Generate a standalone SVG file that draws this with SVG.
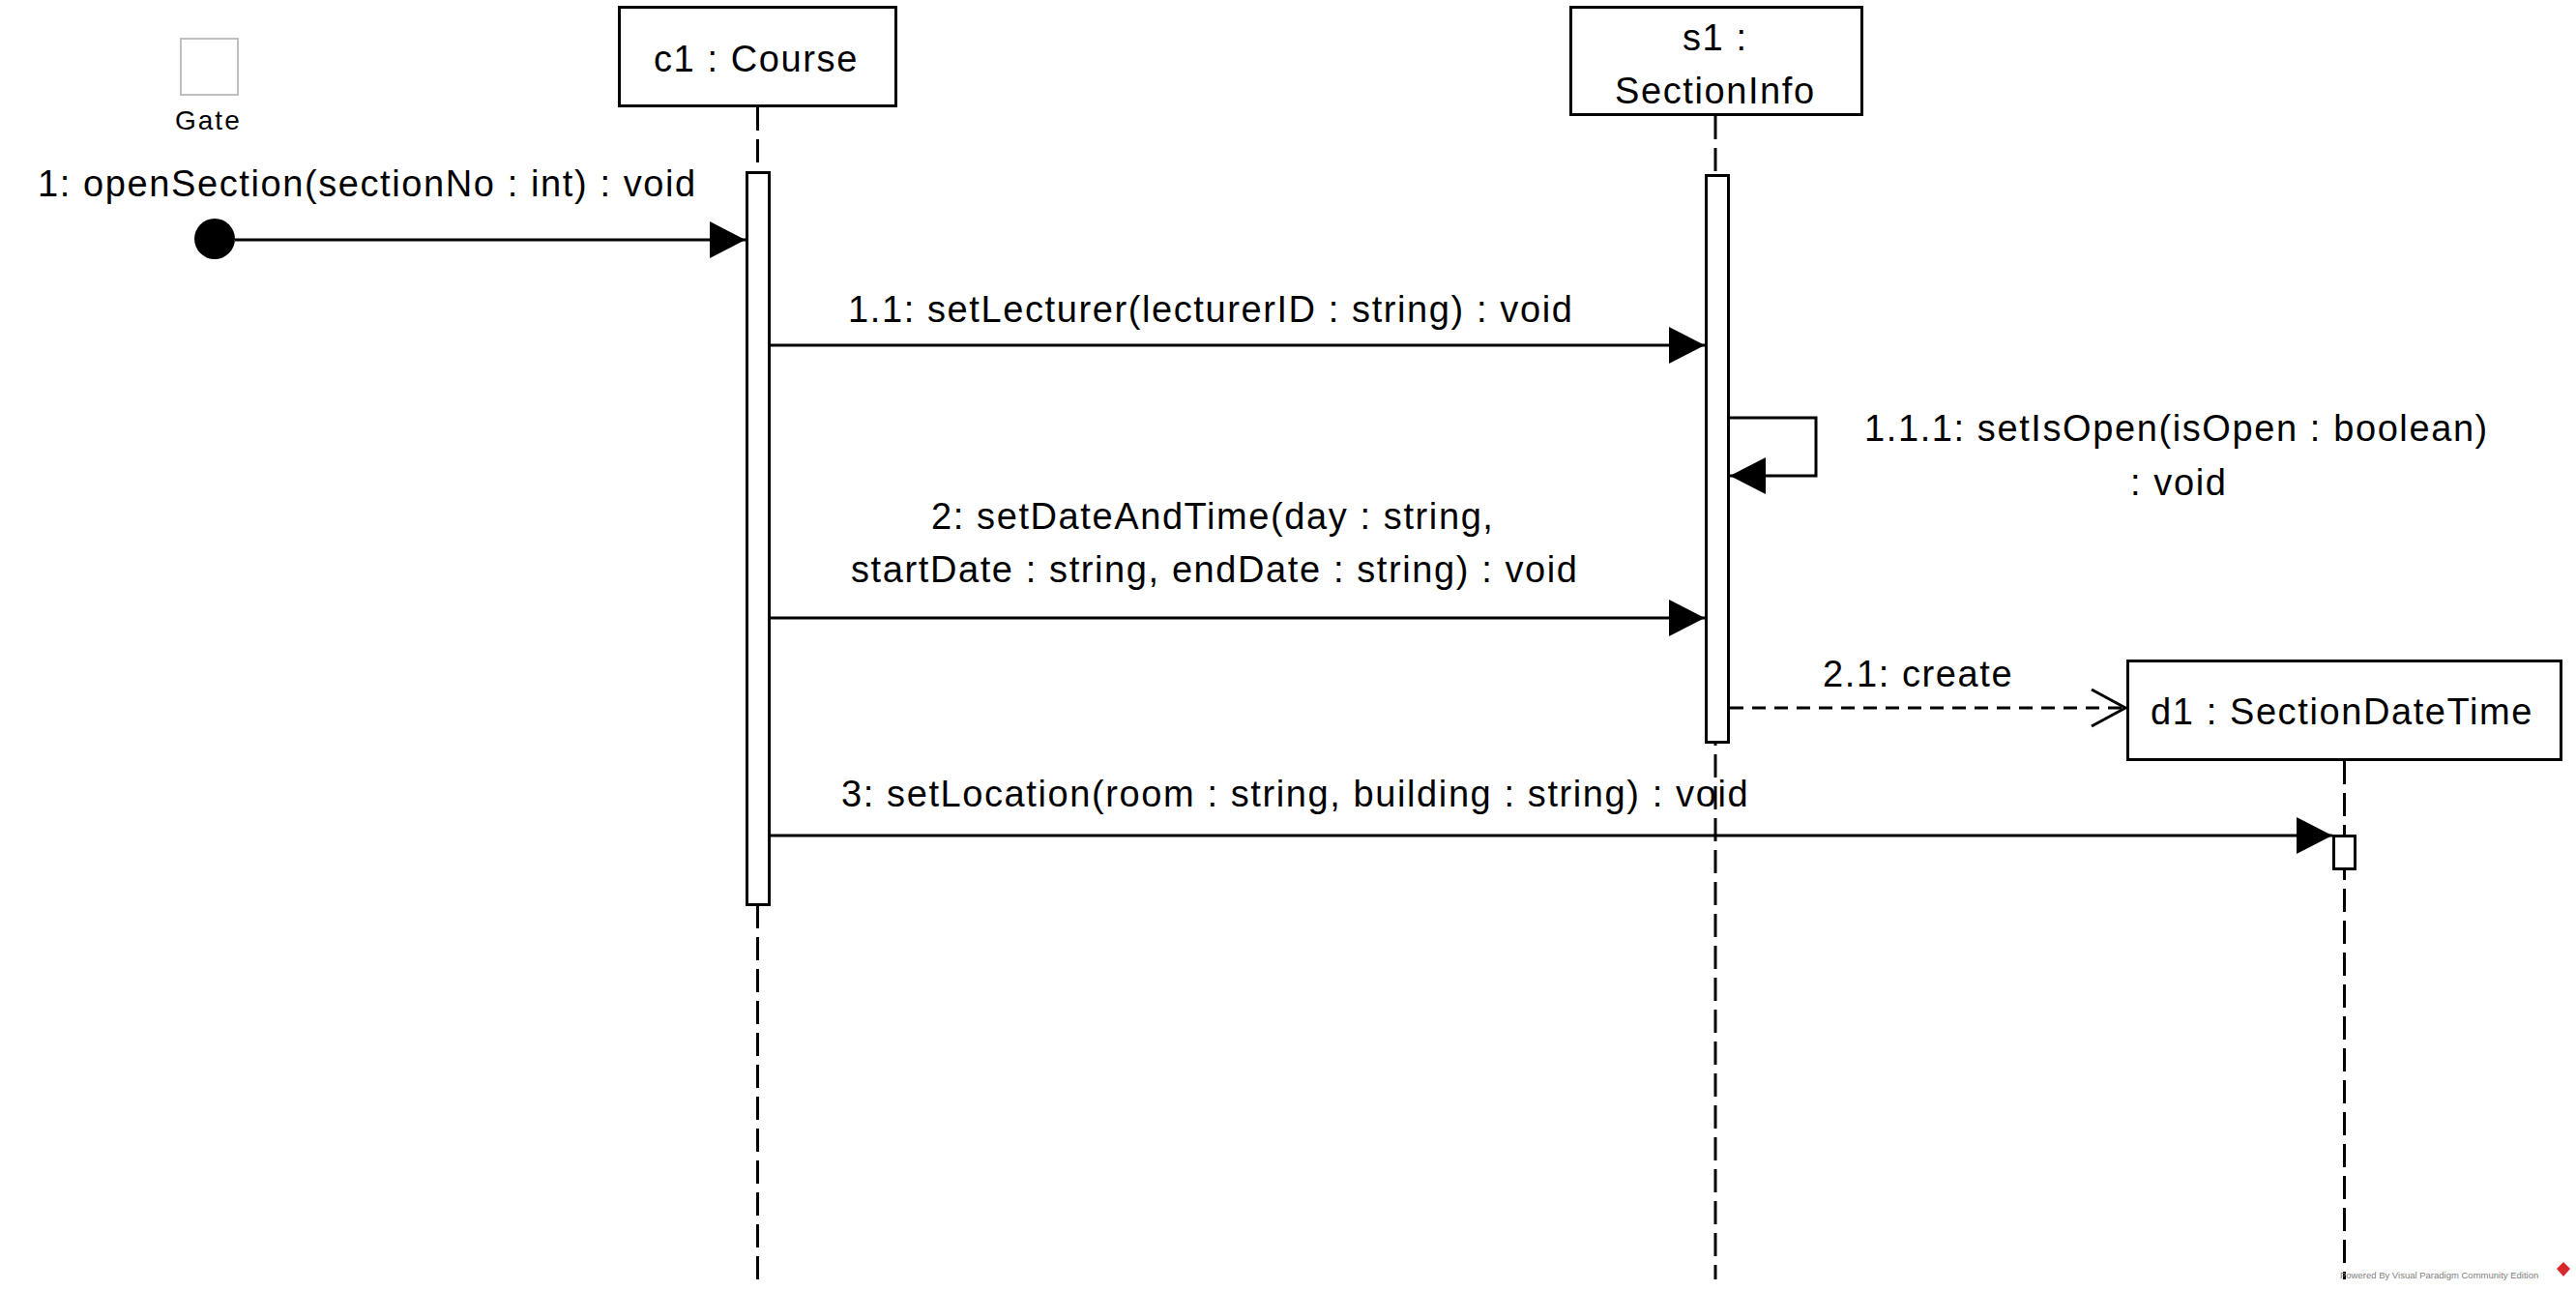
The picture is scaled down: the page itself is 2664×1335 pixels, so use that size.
<svg xmlns="http://www.w3.org/2000/svg" width="2664" height="1335" viewBox="0 0 2664 1335">
<style>
  text { font-family: "Liberation Sans", Arial, sans-serif; font-size: 38px; letter-spacing: 1.6px; fill: #000; }
  .box { fill: #fff; stroke: #000; stroke-width: 3; }
  .act { fill: #fff; stroke: #000; stroke-width: 3; }
  .life { stroke: #000; stroke-width: 3; stroke-dasharray: 24 9; fill: none; }
  .msg { stroke: #000; stroke-width: 3; fill: none; }
  .dash { stroke-dasharray: 14 9; }
</style>
<defs>
  <marker id="filled" markerUnits="userSpaceOnUse" markerWidth="38" markerHeight="38" refX="37" refY="19" orient="auto">
    <path d="M0,0 L37,19 L0,38 z" fill="#000" stroke="none"/>
  </marker>
  <marker id="open" markerUnits="userSpaceOnUse" markerWidth="40" markerHeight="42" refX="36" refY="21" orient="auto">
    <path d="M1,2 L36,21 L1,40" fill="none" stroke="#000" stroke-width="3" stroke-dasharray="none"/>
  </marker>
</defs>
<rect width="2664" height="1335" fill="#fff"/>

<g id="gate">
  <rect x="187" y="40" width="59" height="58" fill="#fff" stroke="#c0c0c0" stroke-width="2"/>
  <text x="181" y="134" style="font-size:28px;letter-spacing:2px">Gate</text>
  <circle cx="222" cy="247" r="21" fill="#000"/>
</g>

<g id="c1">
  <line class="life" x1="783.5" y1="111" x2="783.5" y2="1323"/>
  <rect class="box" x="640.5" y="7.5" width="286" height="102"/>
  <text x="676" y="74">c1 : Course</text>
  <rect class="act" x="772.5" y="178.5" width="23" height="757"/>
</g>

<g id="s1">
  <line class="life" x1="1774" y1="120" x2="1774" y2="1323"/>
  <rect class="box" x="1624.5" y="7.5" width="301" height="111"/>
  <text x="1740" y="52">s1 :</text>
  <text x="1670" y="107">SectionInfo</text>
  <rect class="act" x="1764.5" y="181.5" width="23" height="586"/>
</g>

<g id="d1">
  <line class="life" x1="2424.5" y1="787" x2="2424.5" y2="1323"/>
  <rect class="box" x="2200.5" y="683.5" width="448" height="102"/>
  <text x="2224" y="749">d1 : SectionDateTime</text>
  <rect class="act" x="2413.5" y="864.5" width="22" height="34"/>
</g>

<g id="connectors">
  <line class="msg" x1="243" y1="248" x2="771" y2="248" marker-end="url(#filled)"/>
  <text x="39" y="203">1: openSection(sectionNo : int) : void</text>

  <line class="msg" x1="797" y1="357" x2="1763" y2="357" marker-end="url(#filled)"/>
  <text x="877" y="333">1.1: setLecturer(lecturerID : string) : void</text>

  <path class="msg" d="M1789,432 H1878 V492 H1789" marker-end="url(#filled)"/>
  <text x="1928" y="456">1.1.1: setIsOpen(isOpen : boolean)</text>
  <text x="2203" y="512">: void</text>

  <line class="msg" x1="797" y1="639" x2="1763" y2="639" marker-end="url(#filled)"/>
  <text x="963" y="547">2: setDateAndTime(day : string,</text>
  <text x="880" y="602">startDate : string, endDate : string) : void</text>

  <line class="msg dash" x1="1789" y1="732" x2="2198" y2="732" marker-end="url(#open)"/>
  <text x="1885" y="710">2.1: create</text>

  <line class="msg" x1="797" y1="864" x2="2412" y2="864" marker-end="url(#filled)"/>
  <text x="870" y="834">3: setLocation(room : string, building : string) : void</text>
</g>

<g id="watermark">
  <text x="2420" y="1322" style="font-size:9.5px;letter-spacing:0;fill:#808080">Powered By Visual Paradigm Community Edition</text>
  <path d="M2651,1305 L2658,1312 L2651,1320 L2644,1312 z" fill="#d8282c"/>
</g>
</svg>
